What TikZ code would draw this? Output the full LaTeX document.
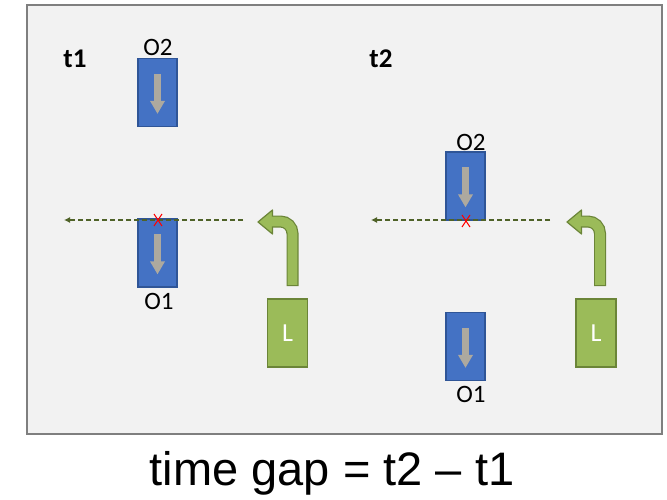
\documentclass[tikz,border=0pt]{standalone}
\usepackage{fontspec}
\setmainfont{Carlito}
\newfontfamily\arialfont{Liberation Sans}
\usetikzlibrary{arrows.meta}
\definecolor{bgcol}{HTML}{F2F2F2}
\definecolor{framecol}{HTML}{7F7F7F}
\definecolor{oblue}{HTML}{4472C4}
\definecolor{oblueb}{HTML}{2F5597}
\definecolor{lgreen}{HTML}{9BBB59}
\definecolor{dgreen}{HTML}{6B8538}
\definecolor{lanecol}{HTML}{4F6228}
\definecolor{garrow}{HTML}{ADA99F}
\begin{document}
\begin{tikzpicture}[x=1pt,y=-1pt,
  obox/.style={draw=oblueb, fill=oblue, line width=1.2pt, minimum width=39pt, minimum height=68pt, inner sep=0pt},
  lbox/.style={draw=dgreen, fill=lgreen, line width=1.2pt, minimum width=40pt, minimum height=68pt, inner sep=0pt, text=white, font=\fontsize{26}{30}\selectfont},
  lab/.style={font=\fontsize{25}{30}\selectfont, inner sep=0pt},
  tlab/.style={font=\bfseries\fontsize{27}{32}\selectfont, inner sep=0pt},
  lane/.style={draw=lanecol, dash pattern=on 5pt off 3pt, line width=1.1pt, -{Latex[length=6pt,width=6pt]}},
  crossmark/.style={draw=red, line width=1pt},
  inarrow/.style={draw=garrow, line width=6.5pt, -{Triangle[length=13pt,width=14pt]}},
  turnout/.style={draw=dgreen, line width=12pt, rounded corners=12pt},
  turnin/.style={draw=lgreen, line width=9.6pt, rounded corners=12pt},
  turnhead/.style={fill=lgreen, draw=dgreen, line width=1.2pt, line join=round}
]
\useasboundingbox (0,0) rectangle (667,500);
\fill[white] (0,0) rectangle (667,500);
\draw[draw=framecol, fill=bgcol, line width=1.5pt] (27,5) rectangle (662,434);

% ---------- left panel (t1) ----------
\node[tlab] (t1) at (75,59) {t1};
\node[obox] (o2a) at (157.5,92.5) {};
\node[lab] (o2alab) at (158,47) {O2};
\node[obox] (o1a) at (157.5,253) {};
\node[lab] (o1alab) at (159,301) {O1};
\draw[inarrow] ([yshift=-16pt]o2a.north) -- ([yshift=-56pt]o2a.north);
\draw[inarrow] ([yshift=-16pt]o1a.north) -- ([yshift=-56pt]o1a.north);
\coordinate (laneAstart) at (243,220);
\coordinate (laneAend) at (64,220);
\draw[lane] (laneAstart) -- (laneAend);
\coordinate (xa) at (158,220);
\draw[crossmark] ([xshift=-4pt,yshift=6pt]xa) -- ([xshift=4pt,yshift=-6pt]xa);
\draw[crossmark] ([xshift=4pt,yshift=6pt]xa) -- ([xshift=-4pt,yshift=-6pt]xa);
\node[lbox] (la) at (287.5,333) {L};
\coordinate (ta0) at (292.5,286);
\coordinate (ta1) at (292.5,221.5);
\coordinate (ta2) at (272,221.5);
\draw[turnout] (ta0) -- (ta1) -- (ta2);
\draw[turnhead] (258,222) -- (272.5,210) -- (272.5,234) -- cycle;
\draw[turnin] ([yshift=1.2pt]ta0) -- (ta1) -- ([xshift=-1.5pt]ta2);

% ---------- right panel (t2) ----------
\node[tlab] (t2) at (381,59) {t2};
\node[obox] (o2b) at (465.5,186) {};
\node[lab] (o2blab) at (471,142) {O2};
\node[obox] (o1b) at (465.5,346.5) {};
\node[lab] (o1blab) at (471,394) {O1};
\draw[inarrow] ([yshift=-16pt]o2b.north) -- ([yshift=-56pt]o2b.north);
\draw[inarrow] ([yshift=-16pt]o1b.north) -- ([yshift=-56pt]o1b.north);
\coordinate (laneBstart) at (550,220);
\coordinate (laneBend) at (371,220);
\draw[lane] (laneBstart) -- (laneBend);
\coordinate (xb) at (466,221);
\draw[crossmark] ([xshift=-4pt,yshift=6pt]xb) -- ([xshift=4pt,yshift=-6pt]xb);
\draw[crossmark] ([xshift=4pt,yshift=6pt]xb) -- ([xshift=-4pt,yshift=-6pt]xb);
\node[lbox] (lb) at (596,333) {L};
\coordinate (tb0) at (600,286);
\coordinate (tb1) at (600,221.5);
\coordinate (tb2) at (581,221.5);
\draw[turnout] (tb0) -- (tb1) -- (tb2);
\draw[turnhead] (567,222) -- (581.5,210) -- (581.5,234) -- cycle;
\draw[turnin] ([yshift=1.2pt]tb0) -- (tb1) -- ([xshift=-1.5pt]tb2);

% ---------- caption ----------
\node[anchor=base, inner sep=0pt, font=\arialfont\fontsize{47}{56}\selectfont] (cap) at (332,485) {time gap = t2 – t1};
\end{tikzpicture}
\end{document}
